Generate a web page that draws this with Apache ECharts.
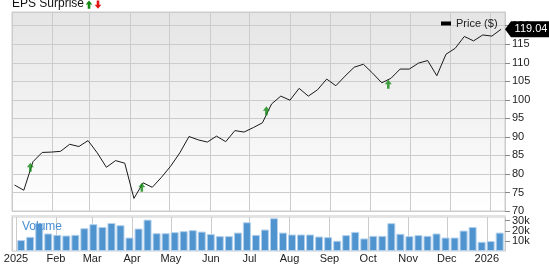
<!DOCTYPE html>
<html><head><meta charset="utf-8">
<script src="https://cdn.jsdelivr.net/npm/echarts@6/dist/echarts.min.js"></script>
<style>html,body{margin:0;padding:0;background:#fff}#c{width:549px;height:264px}</style>
</head><body><div id="c"></div>
<script>
// Weekly closing dates
const weekDates = [
  '2025-01-03','2025-01-10','2025-01-17','2025-01-24','2025-01-31','2025-02-07','2025-02-14','2025-02-21','2025-02-28',
  '2025-03-07','2025-03-14','2025-03-21','2025-03-28','2025-04-04','2025-04-11','2025-04-18','2025-04-25',
  '2025-05-02','2025-05-09','2025-05-16','2025-05-23','2025-05-30','2025-06-06','2025-06-13','2025-06-20','2025-06-27',
  '2025-07-04','2025-07-11','2025-07-18','2025-07-25','2025-08-01','2025-08-08','2025-08-15','2025-08-22','2025-08-29',
  '2025-09-05','2025-09-12','2025-09-19','2025-09-26','2025-10-03','2025-10-10','2025-10-17','2025-10-24','2025-10-31',
  '2025-11-07','2025-11-14','2025-11-21','2025-11-28','2025-12-05','2025-12-12','2025-12-19','2025-12-26',
  '2026-01-02','2026-01-09'
];
// Price ($)
const prices = [
  77.0, 75.6, 83.3, 85.8, 85.9, 86.1, 88.0, 87.4, 89.0,
  85.7, 81.8, 83.6, 82.9, 73.4, 77.6, 76.4, 79.1,
  82.1, 85.7, 90.1, 89.2, 88.6, 90.2, 88.7, 91.7, 91.3,
  92.5, 93.8, 98.9, 101.0, 99.9, 103.1, 101.0, 102.7, 105.6,
  103.8, 106.4, 108.8, 109.6, 107.2, 104.6, 105.8, 108.3, 108.3,
  109.9, 110.6, 106.5, 112.3, 113.9, 117.1, 115.9, 117.5,
  117.2, 119.04
];
// Volume (thousands)
const volumesK = [
  10.8, 14.0, 27.7, 17.3, 16.0, 15.3, 16.0, 22.5, 26.5,
  23.8, 27.7, 25.5, 13.3, 22.2, 31.0, 17.6, 17.6,
  18.6, 19.6, 20.6, 19.2, 16.7, 14.7, 14.7, 18.2, 28.4,
  16.0, 21.2, 32.4, 18.2, 16.3, 16.3, 16.3, 14.3, 13.7,
  10.1, 15.7, 18.9, 12.4, 15.0, 15.0, 27.5, 17.0, 14.7,
  15.7, 15.0, 17.3, 13.3, 13.3, 20.2, 23.8, 9.1,
  9.8, 18.2
];
// EPS surprise markers (all positive)
const epsDates = ['2025-01-15', '2025-04-10', '2025-07-14', '2025-10-15'];
const epsValues = [83.0, 77.6, 98.3, 105.4];

const monthNames = ['Jan','Feb','Mar','Apr','May','Jun','Jul','Aug','Sep','Oct','Nov','Dec'];
const xMin = '2025-01-01';
const xMax = '2026-01-12';
const DAY = 86400000;
const FONT = 'Liberation Sans, Arial, sans-serif';

const priceData = weekDates.map((d, i) => [d, prices[i]]);
const volData = weekDates.map((d, i) => [+new Date(d + 'T00:00:00') + 2 * DAY, volumesK[i]]);
const epsData = epsDates.map((d, i) => [d, epsValues[i]]);
const lastPrice = prices[prices.length - 1];

const chart = echarts.init(document.getElementById('c'), null, { renderer: 'canvas' });

const timeAxisCommon = {
  type: 'time', min: xMin, max: xMax,
  minInterval: 28 * DAY, maxInterval: 31 * DAY,
  splitLine: { show: true, lineStyle: { color: '#cccccc', width: 1 } },
  axisTick: { show: false }
};

const ARROW_UP = 'path://M3.5,0 L7,4.5 L4.8,4.5 L4.8,9 L2.2,9 L2.2,4.5 L0,4.5 Z';

chart.setOption({
  animation: false,
  textStyle: { fontFamily: FONT },
  title: [
    { text: 'EPS Surprise', left: 12, top: -2, padding: 0,
      textStyle: { fontSize: 12, fontWeight: 'normal', color: '#111', fontFamily: FONT } },
    { text: 'Volume', left: 22, top: 221, padding: 0,
      textStyle: { fontSize: 12, fontWeight: 'normal', color: '#4a8fd2', fontFamily: FONT } }
  ],
  legend: {
    data: [{ name: 'Price ($)', icon: 'rect' }],
    left: 441, top: 18, padding: 0,
    itemWidth: 10, itemHeight: 4, itemGap: 5,
    textStyle: { fontSize: 11, color: '#222', fontFamily: FONT },
    selectedMode: false
  },
  graphic: [
    { type: 'polygon', shape: { points: [[89,0.5],[92.3,4.5],[90.3,4.5],[90.3,8.8],[87.7,8.8],[87.7,4.5],[85.7,4.5]] },
      style: { fill: '#138a13' } },
    { type: 'polygon', shape: { points: [[98,8.8],[101.3,4.8],[99.3,4.8],[99.3,0.5],[96.7,0.5],[96.7,4.8],[94.7,4.8]] },
      style: { fill: '#e31414' } }
  ],
  grid: [
    { left: 12, right: 44, top: 12, height: 199, show: true, borderColor: '#cccccc', borderWidth: 1,
      backgroundColor: new echarts.graphic.LinearGradient(0, 0, 0, 1, [
        { offset: 0, color: '#e5e5e5' }, { offset: 1, color: '#ffffff' }]) },
    { left: 12, right: 44, top: 217, height: 34.3, show: true, borderColor: '#cccccc', borderWidth: 1,
      backgroundColor: '#ffffff' }
  ],
  xAxis: [
    Object.assign({}, timeAxisCommon, {
      gridIndex: 0, offset: 5,
      axisLine: { show: true, lineStyle: { color: '#e2e2e2', width: 2 } },
      axisLabel: { show: false }
    }),
    Object.assign({}, timeAxisCommon, {
      gridIndex: 1,
      axisLine: { show: false },
      axisLabel: {
        show: true, margin: 2, fontSize: 11, color: '#222', fontFamily: FONT,
        showMaxLabel: false, hideOverlap: false,
        formatter: function (val) {
          const d = new Date(val);
          return d.getMonth() === 0 ? String(d.getFullYear()) : monthNames[d.getMonth()];
        }
      }
    })
  ],
  yAxis: [
    { type: 'value', gridIndex: 0, position: 'right', min: 70, max: 123.7, interval: 5,
      splitLine: { show: true, lineStyle: { color: '#cccccc' } },
      axisLine: { show: true, lineStyle: { color: '#cccccc' } },
      axisTick: { show: true, length: 5, lineStyle: { color: '#888' } },
      axisLabel: { margin: 7, fontSize: 11, color: '#222', fontFamily: FONT, showMaxLabel: false } },
    { type: 'value', gridIndex: 1, position: 'right', min: 0, max: 33.6, interval: 10,
      splitLine: { show: false },
      axisLine: { show: true, lineStyle: { color: '#cccccc' } },
      axisTick: { show: true, length: 5, lineStyle: { color: '#888' } },
      axisLabel: { margin: 7, fontSize: 11, color: '#222', fontFamily: FONT, showMaxLabel: false,
        formatter: v => v === 0 ? '0' : v + 'k' } }
  ],
  series: [
    { name: 'Volume', type: 'bar', xAxisIndex: 1, yAxisIndex: 1, data: volData,
      barWidth: 8, itemStyle: { color: '#4f93cf', borderColor: '#b3d1ec', borderWidth: 1 } },
    { name: 'Price ($)', type: 'line', xAxisIndex: 0, yAxisIndex: 0, data: priceData,
      symbol: 'none', lineStyle: { color: '#1a1a1a', width: 1 }, itemStyle: { color: '#000' }, z: 3,
      markPoint: {
        symbol: 'path://M0,8 L6,0 L46,0 L46,16 L6,16 Z', symbolSize: [46, 16], symbolKeepAspect: false,
        symbolOffset: [23, 0],
        itemStyle: { color: '#000' },
        label: { show: true, position: 'inside', color: '#fff', fontSize: 11, fontFamily: FONT,
          offset: [3, 0], formatter: p => p.value.toFixed(2) },
        data: [{ coord: [xMax, lastPrice], value: lastPrice }]
      } },
    { name: 'EPS', type: 'scatter', xAxisIndex: 0, yAxisIndex: 0, data: epsData,
      symbol: ARROW_UP, symbolSize: [7, 9], symbolKeepAspect: false,
      symbolOffset: [0, '50%'], itemStyle: { color: '#138a13' }, z: 4 }
  ]
});
</script>
</body></html>
